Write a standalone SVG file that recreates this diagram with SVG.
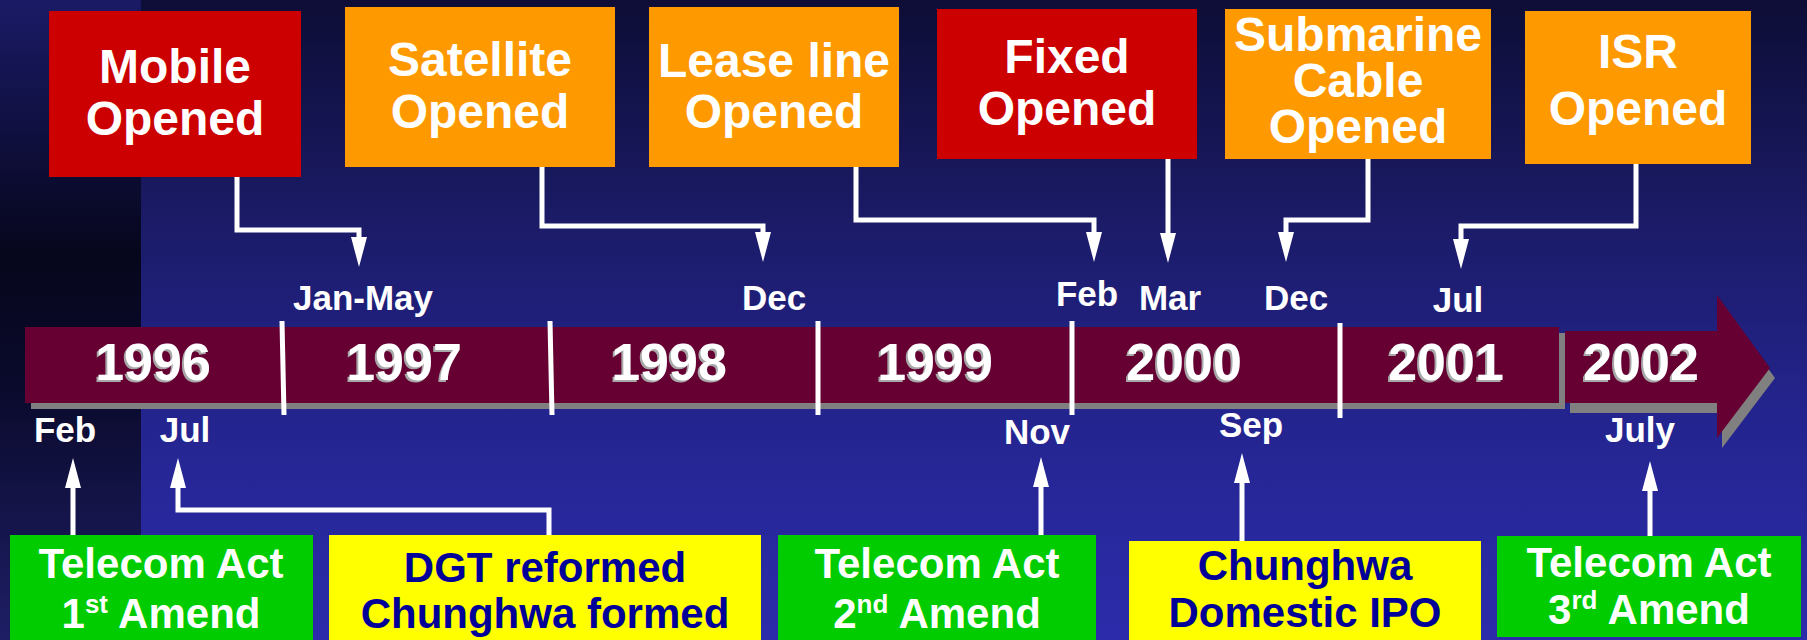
<svg xmlns="http://www.w3.org/2000/svg" width="1807" height="640" viewBox="0 0 1807 640">
  <defs>
    <linearGradient id="bgMain" x1="0" y1="0" x2="0" y2="1">
      <stop offset="0" stop-color="#0d0d36"/>
      <stop offset="0.35" stop-color="#1b1b68"/>
      <stop offset="0.65" stop-color="#24248f"/>
      <stop offset="1" stop-color="#2c2cab"/>
    </linearGradient>
    <linearGradient id="bgStrip" x1="0" y1="0" x2="0" y2="1">
      <stop offset="0" stop-color="#1a1a66"/>
      <stop offset="0.4" stop-color="#06061c"/>
      <stop offset="0.6" stop-color="#0a0a2c"/>
      <stop offset="1" stop-color="#1e1e66"/>
    </linearGradient>
    <marker id="head" viewBox="0 0 30 16" refX="0" refY="8" markerWidth="30" markerHeight="16" markerUnits="userSpaceOnUse" orient="auto">
      <path d="M0 0 L30 8 L0 16 Z" fill="#ffffff"/>
    </marker>
    <style>
      .lbl { font-family: "Liberation Sans", Arial, sans-serif; font-weight: bold; text-anchor: middle; }
      .top { font-size: 48px; fill: #ffffff; }
      .bot { font-size: 42px; }
      .wt { fill: #ffffff; }
      .bl { fill: #000099; }
      .mon { font-size: 35px; fill: #ffffff; }
      .yr { font-size: 52px; fill: #ffffff; }
      .yrs { font-size: 52px; fill: #a8a8a8; }
      .red { fill: #cc0000; }
      .org { fill: #ff9900; }
      .grn { fill: #00cc00; }
      .yel { fill: #ffff00; }
      .conn { fill: none; stroke: #ffffff; stroke-width: 5; marker-end: url(#head); }
      .tick { stroke: #ffffff; stroke-width: 5; }
    </style>
  </defs>

  <!-- background -->
  <rect x="0" y="0" width="1807" height="640" fill="url(#bgMain)"/>
  <rect x="0" y="0" width="141" height="640" fill="url(#bgStrip)"/>

  <!-- timeline bar -->
  <g id="timeline">
    <rect x="31" y="333" width="1534" height="76" fill="#808080"/>
    <rect x="25" y="327" width="1534" height="76" fill="#660033"/>
    <polygon points="1570,341 1722,341 1722,305 1775,378 1722,448 1722,413 1570,413" fill="#808080"/>
    <polygon points="1565,331 1717,331 1717,295 1770,368 1717,438 1717,403 1565,403" fill="#660033"/>
    <line class="tick" x1="282" y1="321" x2="284" y2="415"/>
    <line class="tick" x1="550" y1="321" x2="552" y2="415"/>
    <line class="tick" x1="818" y1="321" x2="818" y2="415"/>
    <line class="tick" x1="1072" y1="321" x2="1072" y2="415"/>
    <line class="tick" x1="1340" y1="323" x2="1340" y2="418"/>
    <g class="lbl">
      <text class="yrs" x="151" y="382">1996</text>
      <text class="yrs" x="402" y="382">1997</text>
      <text class="yrs" x="667" y="382">1998</text>
      <text class="yrs" x="933" y="382">1999</text>
      <text class="yrs" x="1182" y="382">2000</text>
      <text class="yrs" x="1444" y="382">2001</text>
      <text class="yrs" x="1639" y="382">2002</text>
      <text class="yr" x="153" y="380">1996</text>
      <text class="yr" x="404" y="380">1997</text>
      <text class="yr" x="669" y="380">1998</text>
      <text class="yr" x="935" y="380">1999</text>
      <text class="yr" x="1184" y="380">2000</text>
      <text class="yr" x="1446" y="380">2001</text>
      <text class="yr" x="1641" y="380">2002</text>
    </g>
  </g>

  <!-- month labels -->
  <g id="months" class="lbl">
    <text class="mon" x="363" y="310">Jan-May</text>
    <text class="mon" x="774" y="310">Dec</text>
    <text class="mon" x="1087" y="306">Feb</text>
    <text class="mon" x="1170" y="310">Mar</text>
    <text class="mon" x="1296" y="310">Dec</text>
    <text class="mon" x="1458" y="312">Jul</text>
    <text class="mon" x="65" y="442">Feb</text>
    <text class="mon" x="185" y="442">Jul</text>
    <text class="mon" x="1037" y="444">Nov</text>
    <text class="mon" x="1251" y="437">Sep</text>
    <text class="mon" x="1640" y="442">July</text>
  </g>

  <!-- connectors -->
  <g id="connectors">
    <path class="conn" d="M237 177 V230 H359 V237"/>
    <path class="conn" d="M542 167 V226 H763 V232"/>
    <path class="conn" d="M856 167 V220 H1094 V232"/>
    <path class="conn" d="M1168 159 V233"/>
    <path class="conn" d="M1368 159 V220 H1286 V232"/>
    <path class="conn" d="M1636 164 V226 H1461 V239"/>
    <path class="conn" d="M73 535 V488"/>
    <path class="conn" d="M549 535 V510 H178 V488"/>
    <path class="conn" d="M1041 535 V487"/>
    <path class="conn" d="M1242 541 V483"/>
    <path class="conn" d="M1650 536 V491"/>
  </g>

  <!-- market openings -->
  <g id="mobile">
    <rect class="red" x="49" y="11" width="252" height="166"/>
    <text class="lbl top" x="175" y="83">Mobile</text>
    <text class="lbl top" x="175" y="135">Opened</text>
  </g>
  <g id="satellite">
    <rect class="org" x="345" y="7" width="270" height="160"/>
    <text class="lbl top" x="480" y="76">Satellite</text>
    <text class="lbl top" x="480" y="128">Opened</text>
  </g>
  <g id="leaseline">
    <rect class="org" x="649" y="7" width="250" height="160"/>
    <text class="lbl top" x="774" y="77">Lease line</text>
    <text class="lbl top" x="774" y="128">Opened</text>
  </g>
  <g id="fixed">
    <rect class="red" x="937" y="9" width="260" height="150"/>
    <text class="lbl top" x="1067" y="73">Fixed</text>
    <text class="lbl top" x="1067" y="125">Opened</text>
  </g>
  <g id="submarine">
    <rect class="org" x="1225" y="9" width="266" height="150"/>
    <text class="lbl top" x="1358" y="51">Submarine</text>
    <text class="lbl top" x="1358" y="97">Cable</text>
    <text class="lbl top" x="1358" y="143">Opened</text>
  </g>
  <g id="isr">
    <rect class="org" x="1525" y="11" width="226" height="153"/>
    <text class="lbl top" x="1638" y="68">ISR</text>
    <text class="lbl top" x="1638" y="125">Opened</text>
  </g>

  <!-- regulatory events -->
  <g id="amend1">
    <rect class="grn" x="10" y="535" width="303" height="110"/>
    <text class="lbl bot wt" x="161" y="578">Telecom Act</text>
    <text class="lbl bot wt" x="161" y="628">1<tspan font-size="26" dy="-15">st</tspan><tspan dy="15"> Amend</tspan></text>
  </g>
  <g id="dgt">
    <rect class="yel" x="329" y="535" width="432" height="110"/>
    <text class="lbl bot bl" x="545" y="582">DGT reformed</text>
    <text class="lbl bot bl" x="545" y="628">Chunghwa formed</text>
  </g>
  <g id="amend2">
    <rect class="grn" x="778" y="535" width="318" height="110"/>
    <text class="lbl bot wt" x="937" y="578">Telecom Act</text>
    <text class="lbl bot wt" x="937" y="628">2<tspan font-size="26" dy="-15">nd</tspan><tspan dy="15"> Amend</tspan></text>
  </g>
  <g id="ipo">
    <rect class="yel" x="1129" y="541" width="352" height="104"/>
    <text class="lbl bot bl" x="1305" y="580">Chunghwa</text>
    <text class="lbl bot bl" x="1305" y="627">Domestic IPO</text>
  </g>
  <g id="amend3">
    <rect class="grn" x="1497" y="536" width="304" height="101"/>
    <text class="lbl bot wt" x="1649" y="577">Telecom Act</text>
    <text class="lbl bot wt" x="1649" y="624">3<tspan font-size="26" dy="-15">rd</tspan><tspan dy="15"> Amend</tspan></text>
  </g>
</svg>
